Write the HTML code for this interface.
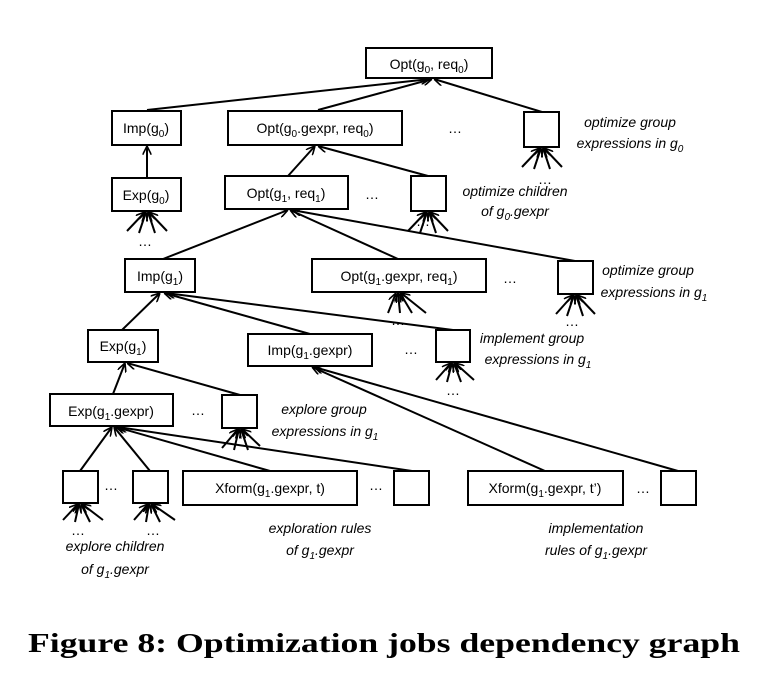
<!DOCTYPE html>
<html><head><meta charset="utf-8"><style>
html,body{margin:0;padding:0;background:#fff;}
svg{display:block;}
.t{font-family:"Liberation Sans Narrow","Liberation Sans",sans-serif;font-size:14px;fill:#000;}
.i{font-family:"Liberation Sans Narrow","Liberation Sans",sans-serif;font-size:14px;font-style:italic;fill:#000;}
.s{font-size:10px;}
rect{fill:#fff;stroke:#000;stroke-width:2;}
line{stroke:#000;stroke-width:2;}
</style></head><body>
<svg width="768" height="682" viewBox="0 0 768 682">
<defs>
<marker id="a" viewBox="0 0 10 10" refX="10" refY="5" markerWidth="9" markerHeight="9" markerUnits="userSpaceOnUse" orient="auto">
<path d="M0,0 L10,5 L0,10" fill="none" stroke="#000" stroke-width="1.8"/>
</marker>
</defs>
<g marker-end="url(#a)">
<line x1="147" y1="110" x2="430" y2="79"/>
<line x1="318" y1="110" x2="432" y2="79"/>
<line x1="542" y1="112" x2="434" y2="79"/>
<line x1="147" y1="178" x2="147" y2="146"/>
<line x1="288" y1="176" x2="315" y2="146"/>
<line x1="428" y1="176" x2="318" y2="146"/>
<line x1="163" y1="259" x2="288" y2="210"/>
<line x1="398" y1="259" x2="290" y2="210"/>
<line x1="575" y1="261" x2="292" y2="210"/>
<line x1="122" y1="330" x2="160" y2="293"/>
<line x1="310" y1="334" x2="164" y2="293"/>
<line x1="453" y1="330" x2="166" y2="293"/>
<line x1="113" y1="394" x2="125" y2="363"/>
<line x1="240" y1="395" x2="127" y2="363"/>
<line x1="80" y1="471" x2="112" y2="427"/>
<line x1="150" y1="471" x2="114" y2="427"/>
<line x1="270" y1="471" x2="116" y2="427"/>
<line x1="412" y1="471" x2="118" y2="427"/>
<line x1="545" y1="471" x2="312" y2="367"/>
<line x1="678" y1="471" x2="314" y2="367"/>
</g>
<g marker-end="url(#a)">
<line x1="127" y1="231" x2="145" y2="212"/><line x1="139" y1="233" x2="146" y2="212"/><line x1="155" y1="233" x2="148" y2="212"/><line x1="167" y1="231" x2="149" y2="212"/>
<line x1="522" y1="167" x2="540" y2="148"/><line x1="534" y1="169" x2="541" y2="148"/><line x1="550" y1="169" x2="543" y2="148"/><line x1="562" y1="167" x2="544" y2="148"/>
<line x1="408" y1="231" x2="426" y2="212"/><line x1="420" y1="233" x2="427" y2="212"/><line x1="436" y1="233" x2="429" y2="212"/><line x1="448" y1="231" x2="430" y2="212"/>
<line x1="388" y1="313" x2="396" y2="293"/><line x1="400" y1="313" x2="398" y2="293"/><line x1="412" y1="313" x2="400" y2="293"/><line x1="426" y1="313" x2="401" y2="293"/>
<line x1="556" y1="314" x2="573" y2="295"/><line x1="567" y1="316" x2="574" y2="295"/><line x1="583" y1="316" x2="576" y2="295"/><line x1="595" y1="314" x2="577" y2="295"/>
<line x1="436" y1="380" x2="451" y2="363"/><line x1="447" y1="382" x2="452" y2="363"/><line x1="461" y1="382" x2="454" y2="363"/><line x1="474" y1="380" x2="455" y2="363"/>
<line x1="222" y1="448" x2="238" y2="429"/><line x1="234" y1="450" x2="239" y2="429"/><line x1="248" y1="450" x2="241" y2="429"/><line x1="260" y1="446" x2="242" y2="429"/>
<line x1="63" y1="520" x2="78" y2="504"/><line x1="75" y1="522" x2="79" y2="504"/><line x1="90" y1="522" x2="81" y2="504"/><line x1="103" y1="520" x2="82" y2="504"/>
<line x1="134" y1="520" x2="148" y2="504"/><line x1="146" y1="522" x2="149" y2="504"/><line x1="160" y1="522" x2="151" y2="504"/><line x1="175" y1="520" x2="152" y2="504"/>
</g>
<rect x="366" y="48" width="126" height="30"/>
<text class="t" x="429" y="69" text-anchor="middle">Opt(g<tspan class="s" dy="4">0</tspan><tspan dy="-4">, req</tspan><tspan class="s" dy="4">0</tspan><tspan dy="-4">)</tspan></text>
<rect x="112" y="111" width="69" height="34"/>
<text class="t" x="146" y="133" text-anchor="middle">Imp(g<tspan class="s" dy="4">0</tspan><tspan dy="-4">)</tspan></text>
<rect x="228" y="111" width="174" height="34"/>
<text class="t" x="315" y="133" text-anchor="middle">Opt(g<tspan class="s" dy="4">0</tspan><tspan dy="-4">.gexpr, req</tspan><tspan class="s" dy="4">0</tspan><tspan dy="-4">)</tspan></text>
<text class="t" x="455" y="133" text-anchor="middle">…</text>
<rect x="524" y="112" width="35" height="35"/>
<text class="i" x="630" y="127" text-anchor="middle">optimize group</text>
<text class="i" x="630" y="148" text-anchor="middle">expressions in g<tspan class="s" dy="4">0</tspan></text>
<text class="t" x="545" y="184" text-anchor="middle">…</text>

<rect x="112" y="178" width="69" height="33"/>
<text class="t" x="146" y="200" text-anchor="middle">Exp(g<tspan class="s" dy="4">0</tspan><tspan dy="-4">)</tspan></text>
<text class="t" x="145" y="246" text-anchor="middle">…</text>
<rect x="225" y="176" width="123" height="33"/>
<text class="t" x="286" y="198" text-anchor="middle">Opt(g<tspan class="s" dy="4">1</tspan><tspan dy="-4">, req</tspan><tspan class="s" dy="4">1</tspan><tspan dy="-4">)</tspan></text>
<text class="t" x="372" y="199" text-anchor="middle">…</text>
<rect x="411" y="176" width="35" height="35"/>
<text class="t" x="423" y="226" text-anchor="middle">…</text>
<text class="i" x="515" y="196" text-anchor="middle">optimize children</text>
<text class="i" x="515" y="216" text-anchor="middle">of g<tspan class="s" dy="4">0</tspan><tspan dy="-4">.gexpr</tspan></text>

<rect x="125" y="259" width="70" height="33"/>
<text class="t" x="160" y="281" text-anchor="middle">Imp(g<tspan class="s" dy="4">1</tspan><tspan dy="-4">)</tspan></text>
<rect x="312" y="259" width="174" height="33"/>
<text class="t" x="399" y="281" text-anchor="middle">Opt(g<tspan class="s" dy="4">1</tspan><tspan dy="-4">.gexpr, req</tspan><tspan class="s" dy="4">1</tspan><tspan dy="-4">)</tspan></text>
<text class="t" x="398" y="325" text-anchor="middle">…</text>
<text class="t" x="510" y="283" text-anchor="middle">…</text>
<rect x="558" y="261" width="35" height="33"/>
<text class="t" x="572" y="326" text-anchor="middle">…</text>
<text class="i" x="648" y="275" text-anchor="middle">optimize group</text>
<text class="i" x="654" y="297" text-anchor="middle">expressions in g<tspan class="s" dy="4">1</tspan></text>

<rect x="88" y="330" width="70" height="32"/>
<text class="t" x="123" y="351" text-anchor="middle">Exp(g<tspan class="s" dy="4">1</tspan><tspan dy="-4">)</tspan></text>
<rect x="248" y="334" width="124" height="32"/>
<text class="t" x="310" y="355" text-anchor="middle">Imp(g<tspan class="s" dy="4">1</tspan><tspan dy="-4">.gexpr)</tspan></text>
<text class="t" x="411" y="354" text-anchor="middle">…</text>
<rect x="436" y="330" width="34" height="32"/>
<text class="t" x="453" y="395" text-anchor="middle">…</text>
<text class="i" x="532" y="343" text-anchor="middle">implement group</text>
<text class="i" x="538" y="364" text-anchor="middle">expressions in g<tspan class="s" dy="4">1</tspan></text>

<rect x="50" y="394" width="123" height="32"/>
<text class="t" x="111" y="416" text-anchor="middle">Exp(g<tspan class="s" dy="4">1</tspan><tspan dy="-4">.gexpr)</tspan></text>
<text class="t" x="198" y="415" text-anchor="middle">…</text>
<rect x="222" y="395" width="35" height="33"/>
<text class="i" x="324" y="414" text-anchor="middle">explore group</text>
<text class="i" x="325" y="436" text-anchor="middle">expressions in g<tspan class="s" dy="4">1</tspan></text>

<rect x="63" y="471" width="35" height="32"/>
<text class="t" x="111" y="490" text-anchor="middle">…</text>
<rect x="133" y="471" width="35" height="32"/>
<rect x="183" y="471" width="174" height="34"/>
<text class="t" x="270" y="493" text-anchor="middle">Xform(g<tspan class="s" dy="4">1</tspan><tspan dy="-4">.gexpr, t)</tspan></text>
<text class="t" x="376" y="490" text-anchor="middle">…</text>
<rect x="394" y="471" width="35" height="34"/>
<rect x="468" y="471" width="155" height="34"/>
<text class="t" x="545" y="493" text-anchor="middle">Xform(g<tspan class="s" dy="4">1</tspan><tspan dy="-4">.gexpr, t’)</tspan></text>
<text class="t" x="643" y="493" text-anchor="middle">…</text>
<rect x="661" y="471" width="35" height="34"/>

<text class="t" x="78" y="535" text-anchor="middle">…</text>
<text class="t" x="153" y="535" text-anchor="middle">…</text>
<text class="i" x="115" y="551" text-anchor="middle">explore children</text>
<text class="i" x="115" y="574" text-anchor="middle">of g<tspan class="s" dy="4">1</tspan><tspan dy="-4">.gexpr</tspan></text>
<text class="i" x="320" y="533" text-anchor="middle">exploration rules</text>
<text class="i" x="320" y="555" text-anchor="middle">of g<tspan class="s" dy="4">1</tspan><tspan dy="-4">.gexpr</tspan></text>
<text class="i" x="596" y="533" text-anchor="middle">implementation</text>
<text class="i" x="596" y="555" text-anchor="middle">rules of g<tspan class="s" dy="4">1</tspan><tspan dy="-4">.gexpr</tspan></text>

<text x="384" y="652" text-anchor="middle" textLength="712" lengthAdjust="spacingAndGlyphs" style="font-family:'Liberation Serif',serif;font-weight:bold;font-size:27px;">Figure 8:  Optimization jobs dependency graph</text>
<rect x="0" y="658" width="768" height="24" style="fill:#fff;stroke:none"/>
</svg>
</body></html>
